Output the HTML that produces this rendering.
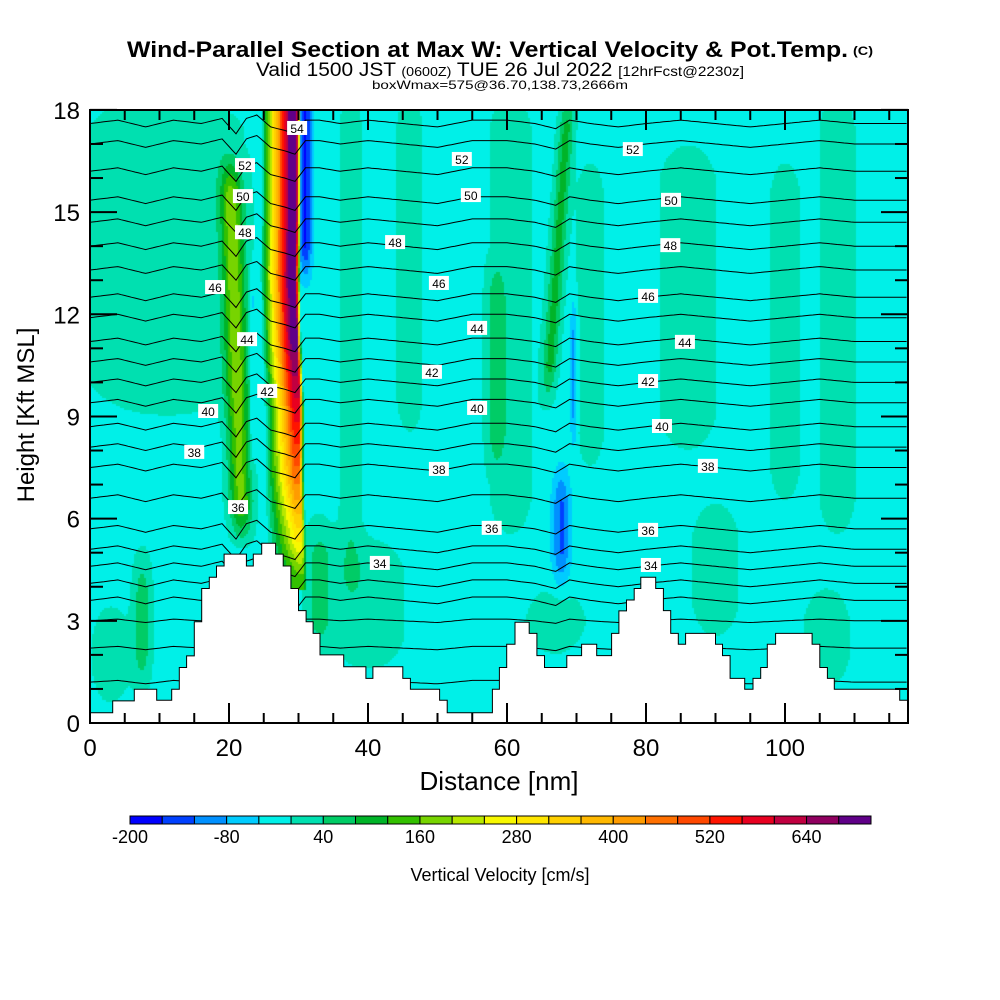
<!DOCTYPE html>
<html><head><meta charset="utf-8"><style>
html,body{margin:0;padding:0;background:#fff;width:1000px;height:1000px;overflow:hidden}
#wrap{position:relative;width:1000px;height:1000px}
#field{position:absolute;left:90px;top:110px}
#ov{position:absolute;left:0;top:0}
text{font-family:"Liberation Sans",sans-serif}
</style></head><body>
<div id="wrap">
<canvas id="field" width="818" height="613"></canvas>
<svg id="ov" width="1000" height="1000" xmlns="http://www.w3.org/2000/svg">
<g id="lines"></g>
<path id="terrain" fill="#fff" stroke="#000" stroke-width="1"/>
<g id="labels"></g>
<rect x="90" y="110" width="818" height="613" fill="none" stroke="#000" stroke-width="2"/>
<g id="ticks" stroke="#000" stroke-width="2"></g>
<g id="ticklabels" font-size="24"></g>
<text x="127" y="57" font-size="22" font-weight="bold" textLength="721" lengthAdjust="spacingAndGlyphs">Wind-Parallel Section at Max W: Vertical Velocity &amp; Pot.Temp.</text>
<text x="853" y="55" font-size="12" font-weight="bold" textLength="20" lengthAdjust="spacingAndGlyphs">(C)</text>
<text x="256" y="76" font-size="19" textLength="488" lengthAdjust="spacingAndGlyphs">Valid 1500 JST <tspan font-size="13">(0600Z)</tspan> TUE 26 Jul 2022 <tspan font-size="14">[12hrFcst@2230z]</tspan></text>
<text x="372" y="89" font-size="12" textLength="256" lengthAdjust="spacingAndGlyphs">boxWmax=575@36.70,138.73,2666m</text>
<text transform="translate(34,415) rotate(-90)" text-anchor="middle" font-size="24">Height [Kft MSL]</text>
<text x="499" y="790" text-anchor="middle" font-size="26">Distance [nm]</text>
<g id="cbar"></g>
<text x="500" y="881" text-anchor="middle" font-size="18">Vertical Velocity [cm/s]</text>
</svg>
</div>
<script>
// ---- colour scale ----
const binColors = ["#0000ff","#0040ff","#0090ff","#00ccff","#00f0e8","#00e0b0","#00cc66","#00b428","#33c000","#77d400","#b8e800","#f8f800","#ffe600","#ffd000","#ffb800","#ff9c00","#ff7000","#ff4800","#ff1400","#e80020","#c00040","#900060","#600088"];
const cbarLabels = [-200,-80,40,160,280,400,520,640];
// ---- terrain (step start nm, height kft) ----
const terrainNm = [0,3.26,6.38,9.59,11.75,12.85,13.9,15.0,16.07,17.17,18.2,19.3,22.5,23.5,24.7,26.7,27.8,28.9,30.0,31.1,32.1,33.1,36.5,39.7,40.7,45.0,46.1,50.3,51.4,57.9,58.9,59.95,61.15,63.2,64.3,65.4,68.6,70.74,72.9,75.05,76.1,77.2,78.3,79.25,81.4,82.5,83.55,84.65,85.7,90.0,91.0,92.1,94.2,95.4,96.5,97.45,98.65,103.9,105.0,106.1,107.1,116.5];
const terrainKft = [0.30,0.65,0.99,0.67,0.99,1.63,1.97,2.97,3.95,4.28,4.61,4.96,4.61,4.96,5.28,4.96,4.61,3.95,3.30,2.97,2.63,2.00,1.65,1.31,1.65,1.31,0.99,0.67,0.30,0.99,1.63,2.31,2.96,2.63,1.98,1.63,1.98,2.31,1.98,2.63,3.29,3.61,3.95,4.28,3.95,3.30,2.63,2.31,2.63,2.31,1.98,1.31,0.99,1.31,1.63,2.31,2.63,2.31,1.63,1.31,0.99,0.67];
// ---- main updraft profile (right edge of core, nm) ----
const mainKft = [4.3,5.4,7.2,9.2,11.2,13.1,15.1,18.5];
const mainNm = [30.7,30.5,30.2,30.2,29.8,29.6,29.7,29.7];
const mainPeak = [150,290,460,580,700,730,730,730];
// ---- other w features ----
const featNm0  = [11,7.5,3,22.65,33,40,37.5,46,62.6,58.3,60.5,72,86,100,107.5,90,106,67,31.0,69.6,67.8,23.4];
const featTilt = [0,0,0,-0.15,0,0,0,0,0.34,0,0,0,0,0,0,0,0,0,0,0,0,0];
const featH0   = [8.5,0.5,0,5,1.5,1,3,8,9,7,5,7,7.5,6,5,2,0.5,1.5,12.5,7.5,3.5,7];
const featH1   = [19,5.5,4,17,6.5,6,19,19,19,14,19,17,17.5,17,19,7,4.5,4.5,19.5,13,8,14];
const featPeak = [42,75,38,190,65,38,42,40,110,60,40,40,42,40,40,40,40,42,-150,-80,-110,-50];
const featWid  = [11,1.3,2.8,1.6,2.0,5.5,1.6,1.9,1.1,1.3,3.0,2.0,4.0,2.2,2.6,3.4,3.4,4.4,1.0,0.5,1.3,0.5];
const baseW = -15;
// ---- potential temperature contours ----
const thetaLevels = [29,30,31,32,33,34,35,36,37,38,39,40,41,42,43,44,45,46,47,48,49,50,51,52,53,54,55];
const thetaKft    = [1.2,2.2,3.0,3.6,4.1,4.6,5.1,5.7,6.6,7.5,8.1,8.7,9.4,10.0,10.6,11.2,11.9,12.5,13.3,14.0,14.7,15.35,16.2,17.0,17.6,18.3,19.0];
const dispNm  = [0,4,8,12,16,19,21,22.5,24,26,28,29.5,31,33,36,40,45,50,55,60,64,67,69,72,76,80,85,90,95,100,105,110,118];
const dispKft = [0,0.1,-0.1,0.1,0,0.15,-0.3,0.15,0.25,-0.1,-0.2,-0.3,0.1,0.1,0,0.1,0,-0.1,0.1,0.1,0,-0.15,0.1,0,-0.1,0,0.1,0,-0.1,0,0.1,0,0];
// ---- contour labels ----
const labelTheta = [52,54,50,48,46,44,42,40,38,36,34,52,50,48,46,44,42,40,38,36,52,50,48,46,44,42,40,38,36,34];
const labelNm  = [22.3,29.8,22.0,22.3,18.0,22.6,25.5,17.0,15.0,21.3,41.7,53.5,54.8,43.9,50.2,55.7,49.2,55.7,50.2,57.8,78.1,83.6,83.5,80.3,85.6,80.3,82.3,88.9,80.3,80.7];
const labelKft = [16.38,17.47,15.47,14.41,12.80,11.27,9.75,9.16,7.96,6.34,4.70,16.56,15.50,14.12,12.92,11.60,10.31,9.25,7.46,5.73,16.85,15.36,14.03,12.54,11.19,10.04,8.72,7.55,5.67,4.64];
const xTicks = [0,20,40,60,80,100];
const yTicks = [0,3,6,9,12,15,18];

const X0=90, Y0=723, PXNM=6.95, PXKFT=34.06, XMAXNM=818/6.95;
const sx = nm => X0 + nm*PXNM;
const sy = k => Y0 - k*PXKFT;
const NS="http://www.w3.org/2000/svg";
function interp(xs, ys, x){
  if(x<=xs[0]) return ys[0];
  for(let i=1;i<xs.length;i++){ if(x<=xs[i]){const t=(x-xs[i-1])/(xs[i]-xs[i-1]); return ys[i-1]+t*(ys[i]-ys[i-1]);} }
  return ys[ys.length-1];
}
function binColor(w){ let b=Math.floor((w+200)/40); b=Math.max(0,Math.min(binColors.length-1,b)); return binColors[b]; }

// ---- field ----
const ctx=document.getElementById('field').getContext('2d');
const STEP=2, CORE=0.8, LLEFT=4.3, LRIGHT=0.6;
for(let py=0;py<613;py+=STEP){
  const k=(613-py-STEP/2)/PXKFT;
  const rEdge=interp(mainKft,mainNm,k), pk=k<mainKft[0]-0.4?0:interp(mainKft,mainPeak,k);
  for(let px=0;px<818;px+=STEP){
    const nm=(px+STEP/2)/PXNM;
    let w=baseW;
    for(let i=0;i<featNm0.length;i++){
      const t=Math.min(1,(k-featH0[i])/1.5,(featH1[i]-k)/1.5);
      if(t<=0) continue;
      const dx=(nm-(featNm0[i]+featTilt[i]*k))/featWid[i];
      w+=featPeak[i]*t*Math.exp(-dx*dx);
    }
    let f;
    if(nm>rEdge) f=1-(nm-rEdge)/LRIGHT;
    else if(nm>=rEdge-CORE) f=1;
    else f=1-(rEdge-CORE-nm)/LLEFT;
    if(f>0 && pk>0) w=Math.max(w, pk*f + baseW*(1-f));
    ctx.fillStyle=binColor(w);
    ctx.fillRect(px,py,STEP,STEP);
  }
}

// ---- theta lines ----
const lg=document.getElementById('lines');
thetaLevels.forEach((th,i)=>{
  let d="";
  for(let nm=0;nm<=XMAXNM+0.01;nm+=0.5){
    const k=thetaKft[i]+interp(dispNm,dispKft,nm)*(thetaKft[i]>3?1:0.5);
    const y=Math.max(110,sy(k));
    d+=(d?"L":"M")+sx(Math.min(nm,XMAXNM)).toFixed(1)+","+y.toFixed(1);
  }
  const p=document.createElementNS(NS,'path');
  p.setAttribute('d',d);p.setAttribute('fill','none');p.setAttribute('stroke','#000');p.setAttribute('stroke-width','1');
  
  
  lg.appendChild(p);
});

// ---- terrain ----
(function(){
  let d="M"+sx(0)+","+Y0;
  for(let i=0;i<terrainNm.length;i++){
    const x1=sx(terrainNm[i]), x2=sx(i+1<terrainNm.length?terrainNm[i+1]:XMAXNM), y=sy(terrainKft[i]);
    d+="L"+x1.toFixed(1)+","+y.toFixed(1)+"L"+x2.toFixed(1)+","+y.toFixed(1);
  }
  d+="L"+sx(XMAXNM)+","+Y0+"Z";
  document.getElementById('terrain').setAttribute('d',d);
})();

// ---- labels ----
const lb=document.getElementById('labels');
labelTheta.forEach((th,i)=>{
  const g=document.createElementNS(NS,'g');
  
  
  const x=sx(labelNm[i]), y=sy(labelKft[i]);
  const r=document.createElementNS(NS,'rect');
  r.setAttribute('x',x-10);r.setAttribute('y',y-7);r.setAttribute('width',20);r.setAttribute('height',14);r.setAttribute('fill','#fff');
  const t=document.createElementNS(NS,'text');
  t.setAttribute('x',x);t.setAttribute('y',y+5);t.setAttribute('text-anchor','middle');t.setAttribute('font-size','12');
  t.textContent=th;
  g.appendChild(r);g.appendChild(t);lb.appendChild(g);
});

// ---- ticks ----
const tg=document.getElementById('ticks'), tl=document.getElementById('ticklabels');
function line(x1,y1,x2,y2,name){const l=document.createElementNS(NS,'line');l.setAttribute('x1',x1);l.setAttribute('y1',y1);l.setAttribute('x2',x2);l.setAttribute('y2',y2);
  
  
  tg.appendChild(l);}
for(let k=0;k<=18;k++){const len=k%3===0?27:13, y=sy(k);line(90,y,90+len,y,'y-tick');line(908,y,908-len,y,'y-tick');}
for(let nm=0;nm<=XMAXNM;nm+=5){const len=nm%20===0?20:10, x=sx(nm);line(x,723,x,723-len,'x-tick');line(x,110,x,110+len,'x-tick');}
yTicks.forEach(v=>{const t=document.createElementNS(NS,'text');t.setAttribute('x',80);t.setAttribute('y',sy(v)+9);t.setAttribute('text-anchor','end');t.textContent=v;
  
  
  tl.appendChild(t);});
xTicks.forEach(v=>{const t=document.createElementNS(NS,'text');t.setAttribute('x',sx(v));t.setAttribute('y',756);t.setAttribute('text-anchor','middle');t.textContent=v;
  
  
  tl.appendChild(t);});

// ---- colorbar ----
const cb=document.getElementById('cbar'), cw=741/binColors.length;
binColors.forEach((c,i)=>{const r=document.createElementNS(NS,'rect');r.setAttribute('x',130+i*cw);r.setAttribute('y',816);r.setAttribute('width',cw);r.setAttribute('height',8);r.setAttribute('fill',c);r.setAttribute('stroke','#000');r.setAttribute('stroke-width','1');
  
  
  cb.appendChild(r);});
cbarLabels.forEach(v=>{const t=document.createElementNS(NS,'text');t.setAttribute('x',130+(v+200)/40*cw);t.setAttribute('y',843);t.setAttribute('text-anchor','middle');t.setAttribute('font-size','18');t.textContent=v;
  
  
  cb.appendChild(t);});
</script>
</body></html>
